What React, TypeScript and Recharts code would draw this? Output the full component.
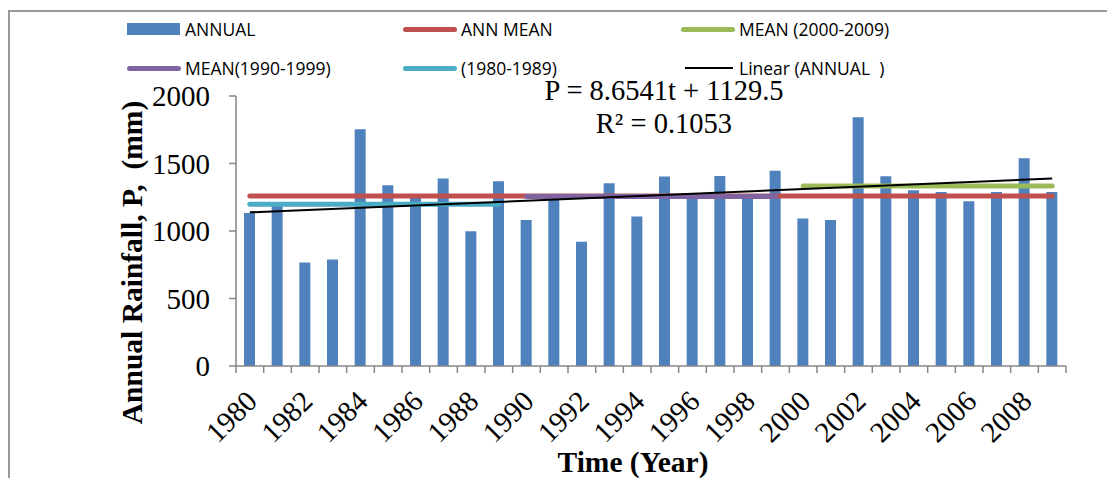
import React from 'react';
import { ComposedChart, Bar, Line, XAxis, YAxis } from 'recharts';

const years = ['1980','1981','1982','1983','1984','1985','1986','1987','1988','1989','1990','1991','1992','1993','1994','1995','1996','1997','1998','1999','2000','2001','2002','2003','2004','2005','2006','2007','2008','2009'];
const annual = [1133,1190,766,788,1753,1338,1262,1388,998,1368,1081,1240,921,1353,1107,1403,1250,1407,1255,1447,1092,1081,1842,1405,1301,1289,1220,1289,1538,1289];
const annMean = 1259;
const decadeMeans = [1198, 1255, 1333];
const trendEnds = [1138, 1389];
const yTicks = [0, 500, 1000, 1500, 2000];

const legendItems = [
  { name: 'ANNUAL', color: '#4F81BD', kind: 'bar' },
  { name: 'ANN MEAN', color: '#C0504D', kind: 'thick' },
  { name: 'MEAN (2000-2009)', color: '#9BBB59', kind: 'thick' },
  { name: 'MEAN(1990-1999)', color: '#8064A2', kind: 'thick' },
  { name: '(1980-1989)', color: '#4BACC6', kind: 'thick' },
  { name: 'Linear (ANNUAL\u00a0\u00a0)', color: '#000000', kind: 'thin' },
];

const data = years.map((y, i) => {
  const d = Math.floor(i / 10);
  return {
    year: y,
    annual: annual[i],
    annMean: annMean,
    m80: d === 0 ? decadeMeans[0] : null,
    m90: d === 1 ? decadeMeans[1] : null,
    m00: d === 2 ? decadeMeans[2] : null,
    trend: i === 0 ? trendEnds[0] : i === years.length - 1 ? trendEnds[1] : null,
  };
});

const SERIF = '"Liberation Serif", "Times New Roman", serif';
const SANS = '"Open Sans", "Noto Sans", sans-serif';
const AXIS = '#868686';

const XTick = (props: any) => {
  const { x, y, payload, index } = props;
  const half = payload && typeof payload.offset === 'number' && payload.offset > 0 ? payload.offset : 830 / 30 / 2;
  const last = index === years.length - 1;
  const tx = x + 9;
  const ty = y + 30;
  return (
    <g>
      <line x1={x - half} y1={y - 7} x2={x - half} y2={y} stroke={AXIS} strokeWidth={1.5} />
      {last && <line x1={x + half} y1={y - 7} x2={x + half} y2={y} stroke={AXIS} strokeWidth={1.5} />}
      {index % 2 === 0 && (
        <text x={tx} y={ty} textAnchor="end" transform={`rotate(-45, ${tx}, ${ty})`} fill="#000" fontSize={29} fontFamily={SERIF}>
          {payload.value}
        </text>
      )}
    </g>
  );
};

const Legend = () => {
  const cols = [119, 395, 673];
  const rows = [14, 53];
  return (
    <>
      {legendItems.map((it, i) => {
        const left = cols[i % 3];
        const top = rows[Math.floor(i / 3)];
        let sw;
        if (it.kind === 'bar') {
          sw = <div style={{ position: 'absolute', left: 0, top: 1, width: 53, height: 12, background: it.color }} />;
        } else if (it.kind === 'thick') {
          sw = <div style={{ position: 'absolute', left: 0, top: 4.5, width: 54, height: 5, borderRadius: 3, background: it.color }} />;
        } else {
          sw = <div style={{ position: 'absolute', left: 4, top: 6, width: 48, height: 2, background: it.color }} />;
        }
        return (
          <div key={it.name} style={{ position: 'absolute', left, top, height: 14, width: 260 }}>
            {sw}
            <span style={{ position: 'absolute', left: 58, top: -6, fontFamily: SANS, fontSize: 17.5, lineHeight: '26px', color: '#000', whiteSpace: 'pre' }}>{it.name}</span>
          </div>
        );
      })}
    </>
  );
};

export default function App() {
  return (
    <div style={{ position: 'relative', width: 1107, height: 470, background: '#fff' }}>
      <div style={{ position: 'absolute', left: 0, top: 2, width: 1107, height: 1.5, background: '#999' }} />
      <div style={{ position: 'absolute', left: 0, top: 2, width: 1.5, height: 468, background: '#999' }} />
      <ComposedChart width={1107} height={470} data={data} margin={{ top: 88, right: 49, left: 0, bottom: 0 }} barSize={11}>
        <XAxis dataKey="year" height={112} interval={0} tickSize={7} tickMargin={0} tickLine={false} axisLine={{ stroke: AXIS, strokeWidth: 1.5 }} tick={<XTick />} />
        <YAxis width={228} domain={[0, 2000]} ticks={yTicks} tickSize={7} tickMargin={19} axisLine={{ stroke: AXIS, strokeWidth: 1.5 }} tickLine={{ stroke: AXIS, strokeWidth: 1.5 }} tick={{ fill: '#000', fontSize: 29, fontFamily: SERIF }} />
        <Bar dataKey="annual" fill="#4F81BD" isAnimationActive={false} />
        <Line dataKey="annMean" stroke="#C0504D" strokeWidth={5} strokeLinecap="round" dot={false} activeDot={false} isAnimationActive={false} />
        <Line dataKey="m00" stroke="#9BBB59" strokeWidth={5} strokeLinecap="round" dot={false} activeDot={false} isAnimationActive={false} />
        <Line dataKey="m90" stroke="#8064A2" strokeWidth={5} strokeLinecap="round" dot={false} activeDot={false} isAnimationActive={false} />
        <Line dataKey="m80" stroke="#4BACC6" strokeWidth={5} strokeLinecap="round" dot={false} activeDot={false} isAnimationActive={false} />
        <Line dataKey="trend" stroke="#000" strokeWidth={2} connectNulls dot={false} activeDot={false} isAnimationActive={false} />
      </ComposedChart>
      <svg width={1107} height={470} style={{ position: 'absolute', left: 0, top: 0, pointerEvents: 'none' }}>
        <text x={656} y={92} textAnchor="middle" fontFamily={SERIF} fontSize={28.5} fill="#000">P = 8.6541t + 1129.5</text>
        <text x={656} y={125} textAnchor="middle" fontFamily={SERIF} fontSize={28.5} fill="#000">R² = 0.1053</text>
        <text x={124} y={254.5} textAnchor="middle" dominantBaseline="central" transform="rotate(-90, 124, 254.5)" fontFamily={SERIF} fontWeight="bold" fontSize={29.5} fill="#000" style={{ whiteSpace: 'pre' }}>{'Annual Rainfall, P,  (mm)'}</text>
        <text x={625} y={464} textAnchor="middle" fontFamily={SERIF} fontWeight="bold" fontSize={29.5} fill="#000">Time (Year)</text>
      </svg>
      <Legend />
    </div>
  );
}
